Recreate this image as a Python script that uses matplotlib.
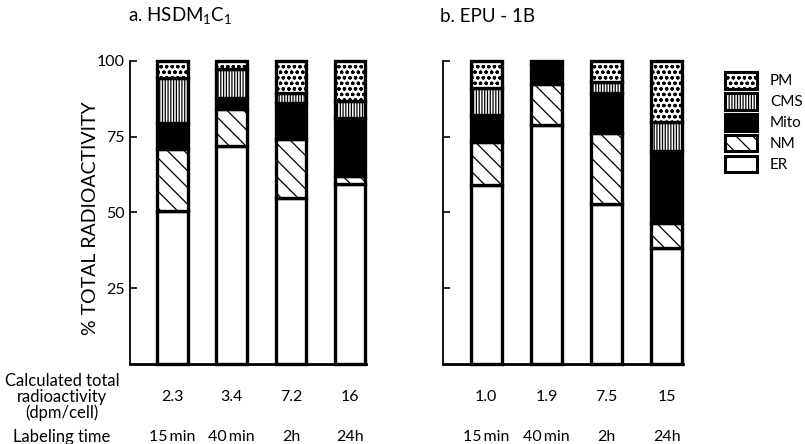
import matplotlib
matplotlib.use("Agg")
import matplotlib.pyplot as plt
from matplotlib.patches import Patch
from matplotlib.transforms import blended_transform_factory
import numpy as np

plt.rcParams['font.family'] = ['Lato', 'DejaVu Sans']
plt.rcParams['mathtext.fontset'] = 'custom'
plt.rcParams['mathtext.rm'] = 'Lato'
plt.rcParams['mathtext.it'] = 'Lato'
plt.rcParams['hatch.linewidth'] = 0.9

# fractions, bottom to top: ER, NM, Mito, CMS, PM (% of total radioactivity)
fractions = ['ER', 'NM', 'Mito', 'CMS', 'PM']
times = ['15min', '40min', '2h', '24h']

hsdm_ER = [50.5, 72.0, 54.7, 59.3]
hsdm_NM = [20.5, 12.0, 19.5, 2.7]
hsdm_Mito = [8.5, 3.7, 12.0, 19.1]
hsdm_CMS = [15.0, 9.6, 3.3, 5.7]
hsdm_PM = [5.5, 2.7, 10.5, 13.2]
hsdm_total = ['2.3', '3.4', '7.2', '16']

epu_ER = [59.0, 79.0, 52.7, 38.2]
epu_NM = [14.3, 13.3, 23.6, 8.4]
epu_Mito = [8.8, 6.7, 13.0, 23.7]
epu_CMS = [8.9, 0.0, 3.9, 9.7]
epu_PM = [9.0, 1.0, 6.8, 20.0]
epu_total = ['1.0', '1.9', '7.5', '15']

styles = {
    'ER':   dict(facecolor='white', hatch=None),
    'NM':   dict(facecolor='white', hatch='\\\\'),
    'Mito': dict(facecolor='black', hatch=None),
    'CMS':  dict(facecolor='white', hatch='||||||'),
    'PM':   dict(facecolor='white', hatch='ooo'),
}

fig = plt.figure(figsize=(8.05, 4.44), dpi=100)
ax_a = fig.add_axes([130 / 805, 80 / 444, 236 / 805, 303 / 444])
ax_b = fig.add_axes([443 / 805, 80 / 444, 240 / 805, 303 / 444])


def draw_panel(ax, series, totals, show_labels):
    x = np.arange(len(times))
    bottom = np.zeros(len(times))
    for name, vals in zip(fractions, series):
        vals = np.array(vals)
        st = styles[name]
        ax.bar(x, vals, 0.52, bottom=bottom, facecolor=st['facecolor'],
               hatch=st['hatch'], edgecolor='black', linewidth=2.4,
               clip_on=False, zorder=3)
        bottom += vals
    ax.set_xlim(-0.72, 3.27)
    ax.set_ylim(0, 100)
    ax.set_xticks([])
    ax.set_yticks([25, 50, 75, 100])
    ax.tick_params(axis='y', direction='in', length=5, width=1.2, pad=4,
                   labelsize=11.5, labelleft=show_labels)
    for s in ['top', 'right']:
        ax.spines[s].set_visible(False)
    ax.spines['left'].set_linewidth(1.3)
    ax.spines['bottom'].set_linewidth(2.0)
    tr = blended_transform_factory(ax.transData, fig.transFigure)
    for xi, tot, t in zip(x, totals, times):
        ax.text(xi, 1 - 397 / 444, tot, transform=tr, ha='center',
                va='center', fontsize=11.5)
        ax.text(xi, 1 - 437 / 444, t.replace('min', '\u2009min'), transform=tr,
                ha='center', va='center', fontsize=11.5)


draw_panel(ax_a, [hsdm_ER, hsdm_NM, hsdm_Mito, hsdm_CMS, hsdm_PM], hsdm_total, True)
draw_panel(ax_b, [epu_ER, epu_NM, epu_Mito, epu_CMS, epu_PM], epu_total, False)

fig.text(128 / 805, 1 - 16 / 444, 'a. HSDM$_1$C$_1$', fontsize=13.5,
         ha='left', va='center')
fig.text(440 / 805, 1 - 16 / 444, 'b. EPU - 1B', fontsize=13.5,
         ha='left', va='center')
fig.text(90 / 805, 1 - 218 / 444, '% TOTAL RADIOACTIVITY', rotation=90,
         fontsize=14, ha='center', va='center')
fig.text(62 / 805, 1 - 397 / 444, 'Calculated total\nradioactivity\n(dpm/cell)',
         fontsize=12, ha='center', va='center', linespacing=1.0)
fig.text(62 / 805, 1 - 437 / 444, 'Labeling time', fontsize=12,
         ha='center', va='center')

handles = [Patch(facecolor=styles[n]['facecolor'], hatch=styles[n]['hatch'],
                 edgecolor='black', linewidth=2.2) for n in fractions[::-1]]
fig.legend(handles, fractions[::-1], loc='upper left',
           bbox_to_anchor=(725 / 805, 1 - 72 / 444), frameon=False,
           borderpad=0, borderaxespad=0, handlelength=2.1, handleheight=1.3,
           labelspacing=0.28, handletextpad=0.85, fontsize=11)

fig.savefig('out.png', dpi=100)
